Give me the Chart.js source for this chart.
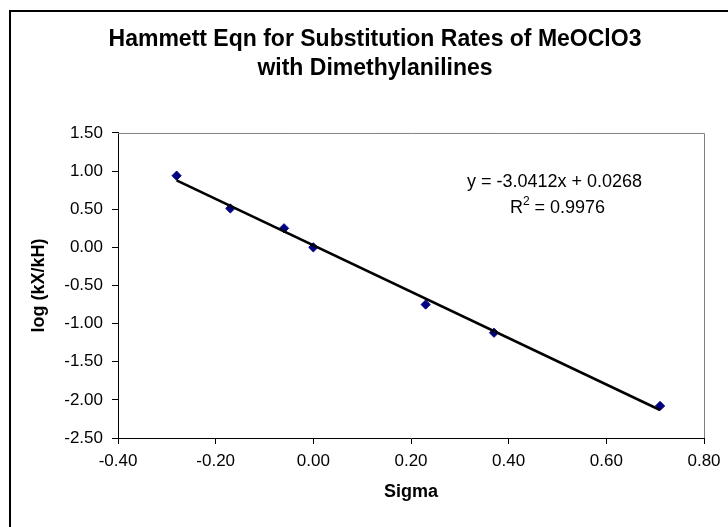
<!DOCTYPE html>
<html>
<head>
<meta charset="utf-8">
<script src="https://cdn.jsdelivr.net/npm/chart.js@4"></script>
<style>
  html, body { margin: 0; padding: 0; background: #fff; overflow: hidden; }
  #wrap { position: relative; width: 728px; height: 527px; }
  #frame { position: absolute; left: 9px; top: 10px; width: 800px; height: 600px; border: 2px solid #000; box-sizing: border-box; }
  canvas { position: absolute; left: 0; top: 0; }
</style>
</head>
<body>
<div id="wrap">
  <div id="frame"></div>
  <canvas id="hammett" width="728" height="527"></canvas>
</div>
<script>
// sigma values and log(kX/kH)
const sigma = [-0.28, -0.17, -0.06, 0.00, 0.23, 0.37, 0.71];
const logRatio = [0.94, 0.51, 0.25, 0.00, -0.75, -1.12, -2.08];

// Excel trendline shown on the chart
const slope = -3.0412;
const intercept = 0.0268;
const rSquared = "0.9976";

const xTicks = [-0.4, -0.2, 0.0, 0.2, 0.4, 0.6, 0.8];
const yTicks = [-2.5, -2.0, -1.5, -1.0, -0.5, 0.0, 0.5, 1.0, 1.5];

const FONT = "'Liberation Sans', Arial, sans-serif";

const points = sigma.map((s, i) => ({ x: s, y: logRatio[i] }));
const xMin = Math.min(...sigma);
const xMax = Math.max(...sigma);
const trend = [
  { x: xMin, y: slope * xMin + intercept },
  { x: xMax, y: slope * xMax + intercept },
];

function fmt(v) {
  return (Math.abs(v) < 1e-9 ? 0 : v).toFixed(2);
}

// gray plot-area border on top and right + trendline label
const extras = {
  id: "extras",
  afterDraw(chart) {
    const { ctx, chartArea: a } = chart;
    ctx.save();
    ctx.strokeStyle = "#808080";
    ctx.lineWidth = 1;
    ctx.beginPath();
    ctx.moveTo(a.left, a.top + 0.5);
    ctx.lineTo(a.right + 0.5, a.top + 0.5);
    ctx.lineTo(a.right + 0.5, a.bottom);
    ctx.stroke();

    ctx.fillStyle = "#000";
    ctx.font = "18px " + FONT;
    ctx.textBaseline = "middle";
    ctx.textAlign = "center";
    const cx = a.left + 0.75 * (a.right - a.left) - 3;
    const eq = "y = " + slope.toFixed(4) + "x + " + intercept.toFixed(4);
    ctx.fillText(eq, cx, a.top + 49);
    // R² with superscript
    const left = "R";
    const right = " = " + rSquared;
    const wL = ctx.measureText(left).width;
    const wR = ctx.measureText(right).width;
    ctx.font = "12px " + FONT;
    const wS = ctx.measureText("2").width;
    const start = cx + 3 - (wL + wS + wR) / 2;
    ctx.textAlign = "left";
    ctx.fillText("2", start + wL, a.top + 69);
    ctx.font = "18px " + FONT;
    ctx.fillText(left, start, a.top + 75);
    ctx.fillText(right, start + wL + wS, a.top + 75);
    ctx.restore();
  },
};

new Chart(document.getElementById("hammett"), {
  type: "scatter",
  data: {
    datasets: [
      {
        label: "trend",
        type: "line",
        data: trend,
        borderColor: "#000",
        borderWidth: 2.6,
        pointRadius: 0,
        fill: false,
        order: 0,
      },
      {
        label: "log (kX/kH)",
        data: points,
        backgroundColor: "#000080",
        borderColor: "#000080",
        borderWidth: 1,
        pointStyle: "rectRot",
        pointRadius: 4.6,
        order: 1,
      },
    ],
  },
  options: {
    responsive: false,
    animation: false,
    devicePixelRatio: 1,
    layout: { padding: { left: 46, right: 24, top: 0, bottom: 0 } },
    plugins: {
      legend: { display: false },
      tooltip: { enabled: false },
      title: {
        display: true,
        text: ["Hammett Eqn for Substitution Rates of MeOClO3", "with Dimethylanilines"],
        color: "#000",
        font: { family: FONT, size: 23, weight: "bold", lineHeight: 1.26 },
        padding: { top: 25, bottom: 50 },
      },
    },
    scales: {
      x: {
        type: "linear",
        min: -0.4,
        max: 0.8,
        afterBuildTicks: (s) => { s.ticks = xTicks.map((v) => ({ value: v })); },
        afterFit: (s) => { s.height = 89; },
        ticks: {
          color: "#000",
          font: { family: FONT, size: 17 },
          padding: 7,
          maxRotation: 0,
          callback: (v) => fmt(v),
        },
        grid: { drawOnChartArea: false, drawTicks: true, tickLength: 6, color: "#000" },
        border: { display: true, color: "#000", width: 1 },
        title: {
          display: true,
          text: "Sigma",
          color: "#000",
          font: { family: FONT, size: 18, weight: "bold", lineHeight: 1.2 },
          padding: { top: 0, bottom: 24 },
        },
      },
      y: {
        min: -2.5,
        max: 1.5,
        afterBuildTicks: (s) => { s.ticks = yTicks.map((v) => ({ value: v })); },
        afterFit: (s) => { s.width = 72; },
        ticks: {
          color: "#000",
          font: { family: FONT, size: 17 },
          padding: 9,
          callback: (v) => fmt(v),
        },
        grid: { drawOnChartArea: false, drawTicks: true, tickLength: 6, color: "#000" },
        border: { display: true, color: "#000", width: 1 },
        title: {
          display: true,
          text: "log (kX/kH)",
          color: "#000",
          font: { family: FONT, size: 18, weight: "bold", lineHeight: 1.2 },
          padding: { top: -18, bottom: 0 },
        },
      },
    },
  },
  plugins: [extras],
});
</script>
</body>
</html>
